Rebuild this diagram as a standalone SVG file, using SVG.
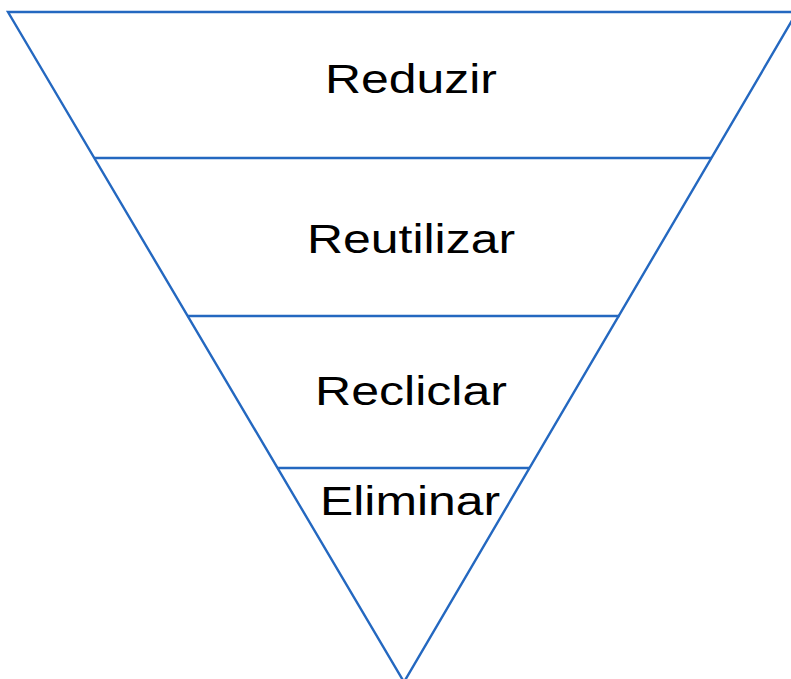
<svg xmlns="http://www.w3.org/2000/svg" width="791" height="679" viewBox="0 0 791 679">
  <style>
    .edge { fill: none; stroke: #2468C0; stroke-width: 2.4; stroke-linejoin: miter; }
    .label { font-family: "Liberation Sans", Arial, sans-serif; font-size: 40px; fill: #000; text-anchor: middle; }
  </style>
  <rect width="791" height="679" fill="#ffffff"/>
  <!-- outer inverted triangle -->
  <g id="funnel">
    <polygon class="edge" points="8,12 797,12 404,682"/>
  </g>
  <g id="reduzir">
    <text class="label" x="411" y="92.5" textLength="172" lengthAdjust="spacingAndGlyphs">Reduzir</text>
  </g>
  <g id="reutilizar">
    <line class="edge" x1="94" y1="158" x2="712" y2="158"/>
    <text class="label" x="411" y="252.5" textLength="208" lengthAdjust="spacingAndGlyphs">Reutilizar</text>
  </g>
  <g id="reciclar">
    <line class="edge" x1="187" y1="316" x2="619.5" y2="316"/>
    <text class="label" x="411" y="405" textLength="192" lengthAdjust="spacingAndGlyphs">Recliclar</text>
  </g>
  <g id="eliminar">
    <line class="edge" x1="277" y1="468" x2="530" y2="468"/>
    <text class="label" x="410" y="515" textLength="180" lengthAdjust="spacingAndGlyphs">Eliminar</text>
  </g>
</svg>
